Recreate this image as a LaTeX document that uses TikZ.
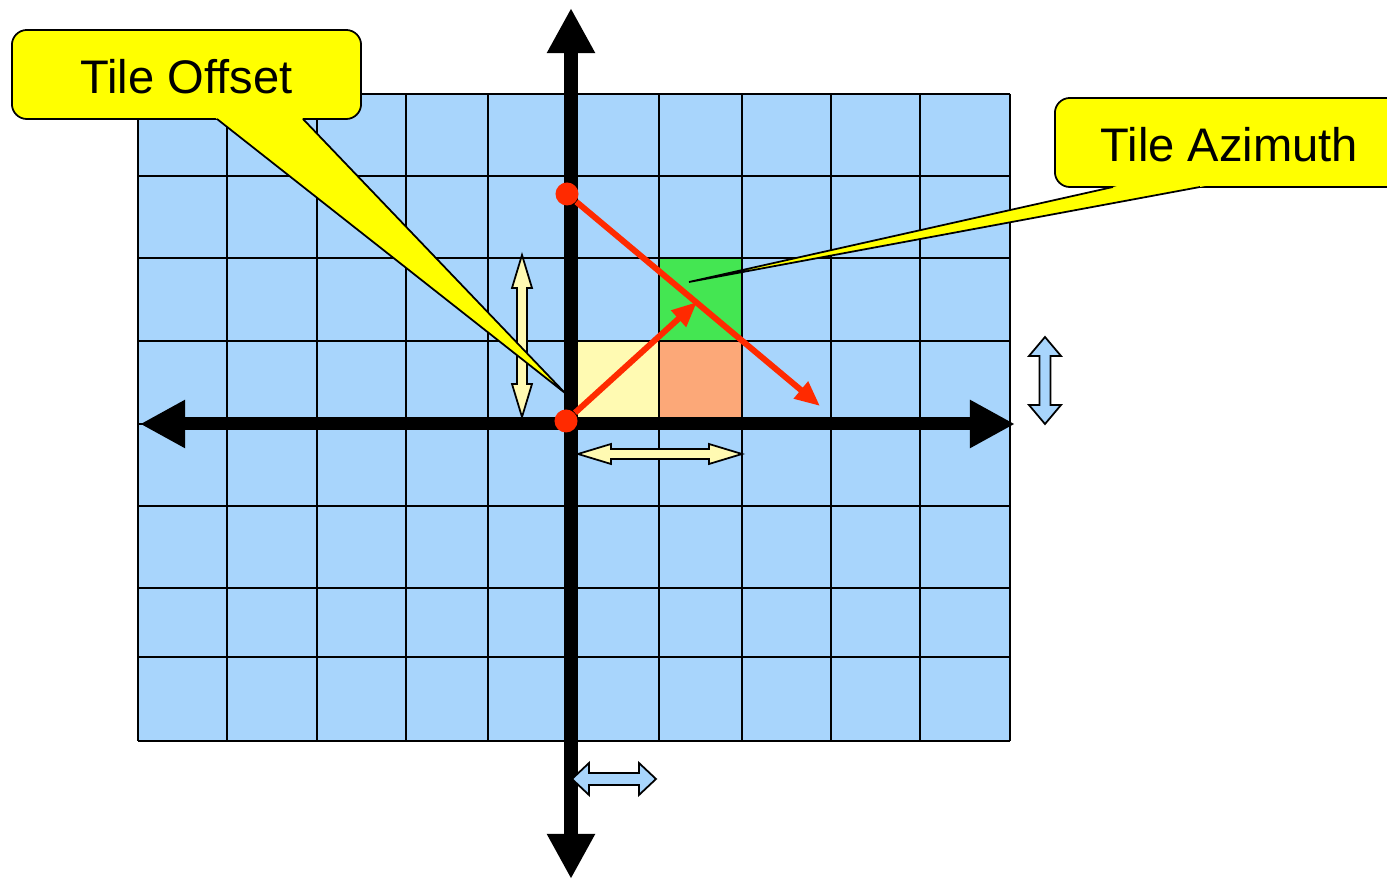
\documentclass[tikz,border=0pt]{standalone}
\usepackage{fontspec}
\setmainfont{Liberation Sans}
\usetikzlibrary{arrows.meta,calc}
\definecolor{tileblue}{RGB}{168,213,252}
\definecolor{tilecream}{RGB}{255,250,178}
\definecolor{tilegreen}{RGB}{68,230,82}
\definecolor{tilesalmon}{RGB}{252,168,120}
\definecolor{tilered}{RGB}{255,42,0}
\definecolor{calloutyellow}{RGB}{255,255,0}

% block double arrows: colour, start, end, position, head length, head half width, shaft half width
\newcommand{\harrow}[7]{\filldraw[fill=#1,line width=0.5pt] (#2,#4) -- ++(#5,-#6) -- ++(0,#6-#7) -- (#3-#5,#4-#7) -- ++(0,#7-#6) -- (#3,#4) -- ++(-#5,#6) -- ++(0,#7-#6) -- (#2+#5,#4+#7) -- ++(0,#6-#7) -- cycle;}
\newcommand{\varrow}[7]{\filldraw[fill=#1,line width=0.5pt] (#4,#2) -- ++(-#6,#5) -- ++(#6-#7,0) -- (#4-#7,#3-#5) -- ++(#7-#6,0) -- (#4,#3) -- ++(#6,-#5) -- ++(#7-#6,0) -- (#4+#7,#2+#5) -- ++(#6-#7,0) -- cycle;}

\begin{document}
\begin{tikzpicture}[x=0.01cm,y=-0.01cm,
  gridline/.style={line width=0.65pt},
  axis/.style={line width=3.7pt,{Triangle[length=0.45cm,width=0.45cm]}-{Triangle[length=0.45cm,width=0.45cm]}},
  redarrow/.style={line width=1.7pt,draw=tilered,-{Triangle[length=0.25cm,width=0.21cm]}},
  reddot/.style={circle,fill=tilered,minimum size=0.23cm,inner sep=0pt},
  callout/.style={draw,fill=calloutyellow,rounded corners=0.15cm,line width=0.5pt,
    minimum width=3.49cm,minimum height=0.89cm,text height=0.39cm,text depth=0pt,
    font=\fontsize{13.4}{16}\selectfont}]
\useasboundingbox (0,0) rectangle (1387,880);

% tiles
\fill[tileblue] (138,94) rectangle (1010,741);
\fill[tilecream] (572,341) rectangle (659,424);
\fill[tilegreen] (659,258) rectangle (742,341);
\fill[tilesalmon] (659,341) rectangle (742,424);
\foreach \x in {138,227,317,406,488,572,659,742,831,920,1010}
  \draw[gridline] (\x,94) -- (\x,741);
\foreach \y in {94,176,258,341,424,506,588,657,741}
  \draw[gridline] (138,\y) -- (1010,\y);

% axes
\coordinate (xneg) at (140,424);
\coordinate (xpos) at (1015,424);
\coordinate (ypos) at (571,8);
\coordinate (yneg) at (571,879);
\draw[axis] (xneg) -- (xpos);
\draw[axis] (ypos) -- (yneg);

% offsets
\varrow{tilecream}{255}{417}{522}{33}{10}{5}
\harrow{tilecream}{578}{742}{454}{33}{10}{5}
\varrow{tileblue}{337}{424}{1045}{19}{16}{5.5}
\harrow{tileblue}{572}{656}{779}{17}{16}{6}

% azimuth
\node[reddot] (d0) at (567,194) {};
\node[reddot] (d1) at (566,421) {};
\coordinate (e0) at (820,406);
\coordinate (e1) at (697,302);
\draw[redarrow] (d0) -- (e0);
\draw[redarrow] (d1) -- (e1);

% callouts
\node[callout] (offset) at (186.5,74.5) {Tile Offset};
\coordinate (offa) at (217,119);
\coordinate (offb) at (303,119);
\coordinate (offtip) at (565,393);
\fill[calloutyellow] (offtip) -- ($(offtip)!1.02!(offa)$) -- ($(offtip)!1.02!(offb)$) -- cycle;
\draw[line width=0.5pt] (offa) -- (offtip) -- (offb);

\node[callout] (azimuth) at (1229.5,142.5) {Tile Azimuth};
\coordinate (azia) at (1113,187);
\coordinate (azib) at (1200,187);
\coordinate (azitip) at (689,282);
\fill[calloutyellow] (azitip) -- ($(azitip)!1.02!(azia)$) -- ($(azitip)!1.02!(azib)$) -- cycle;
\draw[line width=0.5pt] (azia) -- (azitip) -- (azib);
\end{tikzpicture}
\end{document}
